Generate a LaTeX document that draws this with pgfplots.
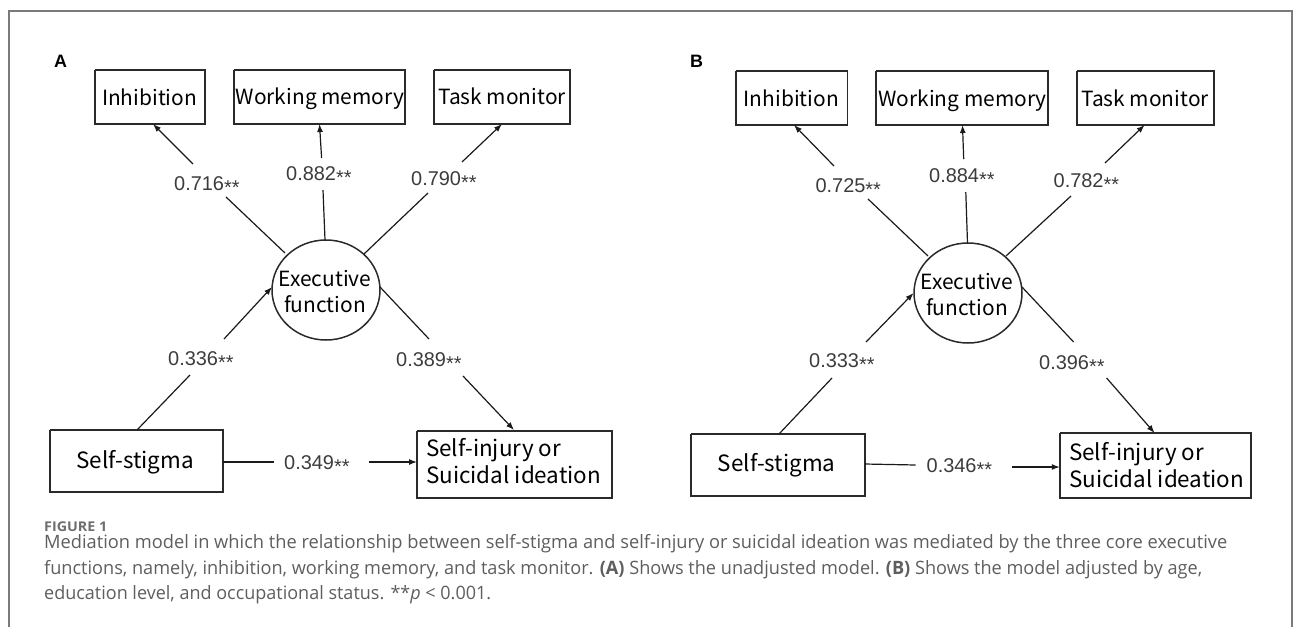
\documentclass[border=0pt]{standalone}
\usepackage{fontspec}
\setmainfont{Open Sans}
\newfontfamily\boxfont{Noto Sans CJK SC}
\newfontfamily\numfont{Liberation Sans}
\usepackage{graphicx}
\usepackage{pgfplots}
\pgfplotsset{compat=1.18}
\usetikzlibrary{arrows.meta}
\definecolor{framec}{HTML}{7A7A7A}
\definecolor{boxc}{HTML}{2A2A2A}
\definecolor{arrc}{HTML}{1A1A1A}
\definecolor{numc}{HTML}{3C3C3C}
\definecolor{capc}{HTML}{5E5E5E}
\definecolor{figc}{HTML}{6E6E6E}
\newlength\capw
\newcommand{\capline}[2]{\settowidth{\capw}{#2}\pgfmathsetmacro\capsc{#1/\capw}\scalebox{\capsc}[1]{#2}}
\newcommand{\bx}[4]{\addplot[boxc, line width=1.6bp, line join=miter] coordinates {(#1,#2)(#3,#2)(#3,#4)(#1,#4)(#1,#2)};}
\newcommand{\seg}[4]{\addplot[arrc, line width=1.2bp] coordinates {(#1,#2)(#3,#4)};}
\newcommand{\arr}[4]{\addplot[arrc, line width=1.2bp, -{Latex[length=8bp,width=6bp]}] coordinates {(#1,#2)(#3,#4)};}
\newcommand{\cf}[3]{\node[anchor=base west, inner sep=0pt, font=\numfont\fontsize{20}{24}\selectfont, text=numc] at (axis cs:#1,#2) {#3\raisebox{-4bp}{**}};}
\newcommand{\bt}[3]{\node[anchor=base, inner sep=0pt, font=\boxfont\fontsize{21}{25}\selectfont] at (axis cs:#1,#2) {#3};}
\newcommand{\btb}[3]{\node[anchor=base, inner sep=0pt, font=\boxfont\fontsize{22.5}{26}\selectfont] at (axis cs:#1,#2) {#3};}
\newcommand{\btl}[3]{\node[anchor=base west, inner sep=0pt, font=\boxfont\fontsize{22.5}{26}\selectfont] at (axis cs:#1,#2) {#3};}
\begin{document}
\begin{tikzpicture}
\begin{axis}[width=1295bp, height=627bp, scale only axis,
  xmin=0, xmax=1295, ymin=0, ymax=627, y dir=reverse,
  hide axis, clip=false]
\path (axis cs:0,0) rectangle (axis cs:1295,627);
% frame
\addplot[framec, line width=1.6bp, line join=miter] coordinates {(9,627)(9,11)(1292,11)(1292,627)};
% ---------------- Panel A ----------------
\node[anchor=base west, inner sep=0pt, font=\numfont\bfseries\fontsize{18}{22}\selectfont] at (axis cs:54,68) {A};
\bx{95}{70}{205}{124}
\bx{234}{70}{405}{124}
\bx{434}{70}{570}{124}
\bx{50}{430}{223}{492}
\bx{417}{431}{612}{498}
\draw[boxc, line width=1.5bp] (axis cs:326,290) ellipse [x radius=54, y radius=50];
\bt{149.6}{105}{Inhibition}
\bt{320}{104}{Working memory}
\bt{502}{104}{Task monitor}
\bt{325}{286}{Executive}
\bt{325}{312}{function}
\btb{135}{468}{Self-stigma}
\btl{426}{456.5}{Self-injury or}
\btl{426}{483}{Suicidal ideation}
\arr{193}{164}{153}{124}
\seg{226}{197}{285}{253}
\arr{321.6}{158}{319.5}{124}
\seg{323}{190}{325}{240}
\arr{462}{162}{502}{124}
\seg{428}{193}{364}{254}
\seg{137}{430}{190}{375}
\arr{224}{339}{272}{287}
\seg{380}{287}{429}{339}
\arr{463}{376}{514}{430}
\seg{223}{462}{274}{462}
\arr{369}{462}{417}{462}
\cf{174}{190}{0.716}
\cf{286}{180}{0.882}
\cf{411}{185}{0.790}
\cf{168}{365}{0.336}
\cf{396}{366}{0.389}
\cf{284}{469}{0.349}
% ---------------- Panel B ----------------
\node[anchor=base west, inner sep=0pt, font=\numfont\bfseries\fontsize{18}{22}\selectfont] at (axis cs:690,68) {B};
\bx{736}{71}{847.6}{125}
\bx{876}{71}{1048}{125}
\bx{1077}{71}{1214}{125}
\bx{691}{434}{865}{496}
\bx{1060}{433}{1251}{498}
\draw[boxc, line width=1.5bp] (axis cs:968,293) ellipse [x radius=54, y radius=50];
\bt{791.4}{106}{Inhibition}
\bt{962.7}{106}{Working memory}
\bt{1145}{106}{Task monitor}
\bt{967}{289}{Executive}
\bt{967}{315}{function}
\btb{776.7}{471.5}{Self-stigma}
\btl{1069}{460}{Self-injury or}
\btl{1069}{487}{Suicidal ideation}
\arr{834}{166}{794}{125}
\seg{868}{199}{928}{256}
\arr{963.7}{159}{962.5}{125}
\seg{965.8}{192}{967.5}{243}
\arr{1105}{163}{1144.6}{125}
\seg{1071}{196}{1006}{256}
\seg{779}{434}{832}{378}
\arr{866}{342}{913.6}{293}
\seg{1022}{287}{1073.6}{342}
\arr{1106.6}{378}{1154.6}{433}
\seg{864.7}{464}{915.7}{465}
\arr{1011.8}{467}{1059.8}{467}
\cf{815.4}{192}{0.725}
\cf{929}{182}{0.884}
\cf{1053.5}{187}{0.782}
\cf{809}{367}{0.333}
\cf{1039}{369}{0.396}
\cf{926.5}{472}{0.346}
% ---------------- Caption ----------------
\node[anchor=base west, inner sep=0pt, text=figc, font=\bfseries\fontsize{13.5}{15}\selectfont] at (axis cs:44,531) {\capline{63bp}{FIGURE 1}};
\node[anchor=base west, inner sep=0pt, text=capc, font=\fontsize{18.5}{22}\selectfont] at (axis cs:44,548) {\capline{1183bp}{Mediation model in which the relationship between self-stigma and self-injury or suicidal ideation was mediated by the three core executive}};
\node[anchor=base west, inner sep=0pt, text=capc, font=\fontsize{18.5}{22}\selectfont] at (axis cs:44,574) {\capline{1158bp}{functions, namely, inhibition, working memory, and task monitor. \textbf{(A)} Shows the unadjusted model. \textbf{(B)} Shows the model adjusted by age,}};
\node[anchor=base west, inner sep=0pt, text=capc, font=\fontsize{18.5}{22}\selectfont] at (axis cs:44,599) {\capline{447bp}{education level, and occupational status. **\textit{p} < 0.001.}};
\end{axis}
\end{tikzpicture}
\end{document}
